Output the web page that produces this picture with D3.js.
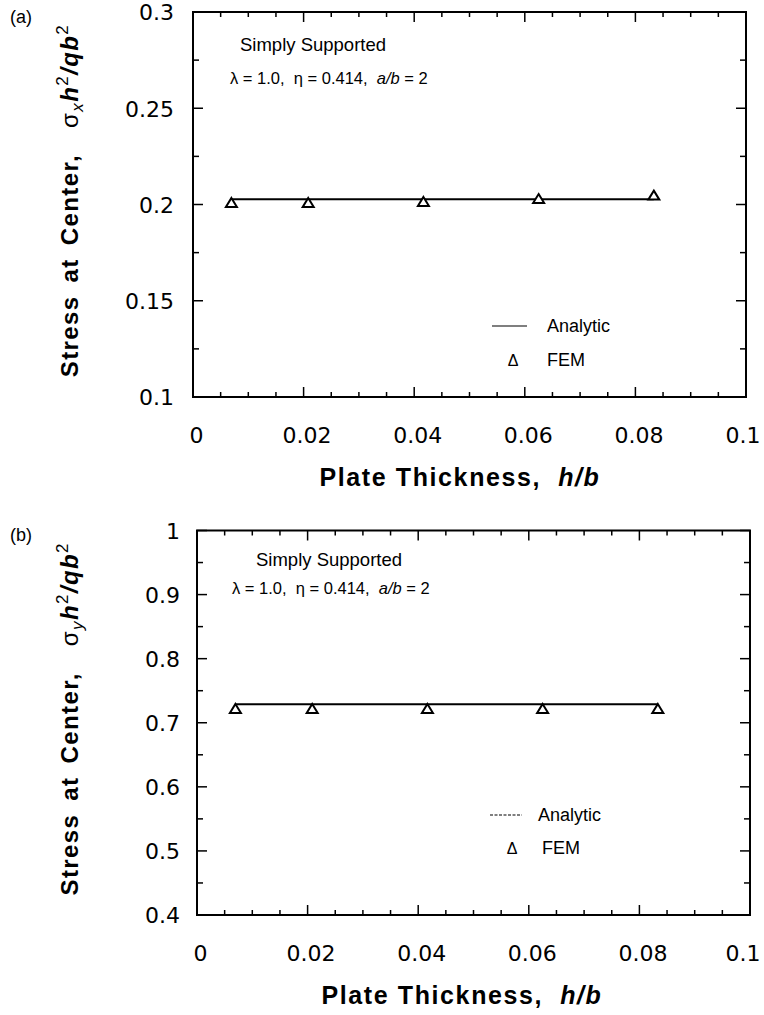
<!DOCTYPE html>
<html>
<head>
<meta charset="utf-8">
<script src="https://cdn.jsdelivr.net/npm/d3@7"></script>
<style>
  html, body { margin: 0; padding: 0; background: #fff; }
  svg { display: block; }
  text { font-family: "Liberation Sans", Arial, Helvetica, sans-serif; fill: #000; white-space: pre; }
</style>
</head>
<body>
<svg id="chart" width="764" height="1015"></svg>
<script>
// ---------- data ----------
const plateThickness = [1/144, 1/48, 1/24, 1/16, 1/12];          // h/b
const femSigmaX      = [0.2003, 0.2003, 0.2008, 0.2023, 0.2041];   // panel (a) FEM
const analyticSigmaX = [0.2027, 0.2027, 0.2027, 0.2027, 0.2027];   // panel (a) Analytic
const femSigmaY      = [0.720, 0.720, 0.720, 0.720, 0.720];        // panel (b) FEM
const analyticSigmaY = [0.729, 0.729, 0.729, 0.729, 0.729];        // panel (b) Analytic
const xTickValues    = [0, 0.02, 0.04, 0.06, 0.08, 0.1];
const xTickLabels    = ["0", "0.02", "0.04", "0.06", "0.08", "0.1"];
const yTicksA        = [0.1, 0.15, 0.2, 0.25, 0.3];
const yTickLabelsA   = ["0.1", "0.15", "0.2", "0.25", "0.3"];
const yTicksB        = [0.4, 0.5, 0.6, 0.7, 0.8, 0.9, 1];
const yTickLabelsB   = ["0.4", "0.5", "0.6", "0.7", "0.8", "0.9", "1"];
const legendLabels   = ["Analytic", "FEM"];
const annotTitle     = "Simply Supported";

const svg = d3.select("#chart");

// open triangle marker (width w, height h), centred on its centroid
const triType = {
  draw(ctx, size) {
    const w = 11, h = 9;
    ctx.moveTo(0, -2 * h / 3);
    ctx.lineTo(w / 2, h / 3);
    ctx.lineTo(-w / 2, h / 3);
    ctx.closePath();
  }
};

function drawPanel(cfg) {
  const g = svg.append("g");
  const x = d3.scaleLinear().domain([0, 0.1]).range([cfg.left, cfg.right]);
  const y = d3.scaleLinear().domain(cfg.yDomain).range([cfg.bottom, cfg.top]);

  const xMinor = d3.range(0, 0.1001, 0.005);
  const yMinor = d3.range(cfg.yDomain[0], cfg.yDomain[1] + 1e-9, cfg.yMinorStep);

  // ticks (inward) on all four sides
  const tickG = g.append("g").attr("stroke", "#000").attr("stroke-width", 1.5);
  const isMajor = (v, arr) => arr.some(t => Math.abs(t - v) < 1e-9);
  xMinor.forEach(v => {
    const L = isMajor(v, xTickValues) ? 10 : 5;
    tickG.append("line").attr("x1", x(v)).attr("x2", x(v)).attr("y1", cfg.bottom).attr("y2", cfg.bottom - L);
    tickG.append("line").attr("x1", x(v)).attr("x2", x(v)).attr("y1", cfg.top).attr("y2", cfg.top + L);
  });
  yMinor.forEach(v => {
    const L = isMajor(v, cfg.yTicks) ? 10 : 6;
    tickG.append("line").attr("y1", y(v)).attr("y2", y(v)).attr("x1", cfg.left).attr("x2", cfg.left + L);
    tickG.append("line").attr("y1", y(v)).attr("y2", y(v)).attr("x1", cfg.right).attr("x2", cfg.right - L);
  });

  // frame
  g.append("rect")
    .attr("x", cfg.left).attr("y", cfg.top)
    .attr("width", cfg.right - cfg.left).attr("height", cfg.bottom - cfg.top)
    .attr("fill", "none").attr("stroke", "#000").attr("stroke-width", 2);

  // tick labels
  const xAxis = d3.axisBottom(x).tickValues(xTickValues).tickSize(0).tickPadding(0)
    .tickFormat((d, i) => xTickLabels[i]);
  const xa = g.append("g").attr("transform", `translate(3,${cfg.xLabelY})`).call(xAxis);
  xa.select(".domain").remove();
  xa.selectAll("text").attr("font-size", 22).attr("y", 0).attr("dy", "0.36em")
    .style("font-family", "'DejaVu Sans', sans-serif");
  // last label sits against the right edge of the picture, as in the reference
  xa.selectAll(".tick").filter((d, i, n) => i === n.length - 1).select("text")
    .attr("text-anchor", "end").attr("x", 760 - 3 - x(0.1));

  const yAxis = d3.axisLeft(y).tickValues(cfg.yTicks).tickSize(0).tickPadding(0)
    .tickFormat((d, i) => cfg.yTickLabels[i]);
  const ya = g.append("g").attr("transform", `translate(${cfg.yLabelX},0)`).call(yAxis);
  ya.select(".domain").remove();
  ya.selectAll("text").attr("font-size", 22).attr("dy", "0.36em")
    .style("font-family", "'DejaVu Sans', sans-serif");

  // analytic line
  const line = d3.line().x((d, i) => x(plateThickness[i])).y(d => y(d));
  g.append("path").datum(cfg.analytic)
    .attr("d", line).attr("fill", "none").attr("stroke", "#000").attr("stroke-width", 2);

  // FEM triangles
  const tri = d3.symbol().type(triType);
  g.selectAll(".fem").data(cfg.fem).enter().append("path")
    .attr("class", "fem")
    .attr("d", tri)
    .attr("transform", (d, i) => `translate(${x(plateThickness[i])},${y(d)})`)
    .attr("fill", "#fff").attr("stroke", "#000").attr("stroke-width", 2)
    .attr("stroke-linejoin", "miter");

  // panel letter
  g.append("text").attr("x", 10).attr("y", cfg.letterY).attr("font-size", 18).text(cfg.letter);

  // annotation
  g.append("text").attr("x", cfg.annotX1).attr("y", cfg.annotY1).attr("font-size", 18.5).text(annotTitle);
  const p = g.append("text").attr("x", cfg.annotX2).attr("y", cfg.annotY2).attr("font-size", 16.5);
  p.append("tspan").text("λ = 1.0,  η = 0.414,  ");
  p.append("tspan").attr("font-style", "italic").text("a/b");
  p.append("tspan").text(" = 2");

  // legend
  g.append("line").attr("x1", cfg.legLineX1).attr("x2", cfg.legLineX2)
    .attr("y1", cfg.legLineY).attr("y2", cfg.legLineY)
    .attr("stroke", "#000").attr("stroke-width", 1.2)
    .attr("stroke-dasharray", cfg.legDash);
  g.append("text").attr("x", cfg.legTextX1).attr("y", cfg.legLineY + 6).attr("font-size", 18).text(legendLabels[0]);
  g.append("text").attr("x", cfg.legDeltaX).attr("y", cfg.legFemY + 6).attr("font-size", 16)
    .attr("text-anchor", "middle").text("Δ");
  g.append("text").attr("x", cfg.legTextX2).attr("y", cfg.legFemY + 6).attr("font-size", 18).text(legendLabels[1]);

  // x title
  const xt = g.append("text").attr("x", cfg.xTitleX).attr("y", cfg.xTitleY + 8)
    .attr("text-anchor", "middle").attr("font-size", 25).attr("font-weight", "bold")
    .style("letter-spacing", "1.6px");
  xt.append("tspan").text("Plate Thickness,  ");
  xt.append("tspan").attr("font-style", "italic").text("h/b");

  // y title
  const cy = (cfg.top + cfg.bottom) / 2 - 4;
  const yt = g.append("text").attr("transform", `translate(${cfg.yTitleX},${cy}) rotate(-90)`)
    .attr("text-anchor", "middle").attr("font-size", 24).attr("font-weight", "bold")
    .style("letter-spacing", "1.4px").style("word-spacing", "5px");
  yt.append("tspan").text("Stress at Center,  ");
  yt.append("tspan").attr("font-weight", "normal").text("σ");
  yt.append("tspan").attr("font-weight", "normal").attr("font-style", "italic").attr("font-size", 17).attr("dy", 5).text(cfg.sub);
  yt.append("tspan").attr("font-style", "italic").attr("dy", -5).text("h");
  yt.append("tspan").attr("font-weight", "normal").attr("font-size", 17).attr("dy", -10).text("2");
  yt.append("tspan").attr("font-style", "italic").attr("dy", 10).text("/qb");
  yt.append("tspan").attr("font-weight", "normal").attr("font-size", 17).attr("dy", -10).text("2");
}

drawPanel({
  letter: "(a)", sub: "x", letterY: 23,
  left: 193, right: 746, top: 12, bottom: 397,
  yDomain: [0.1, 0.3], yMinorStep: 0.025,
  yTicks: yTicksA, yTickLabels: yTickLabelsA,
  fem: femSigmaX, analytic: analyticSigmaX,
  xLabelY: 435, yLabelX: 174,
  annotX1: 240, annotY1: 51, annotX2: 230, annotY2: 84,
  legLineX1: 492, legLineX2: 527, legLineY: 326, legTextX1: 547,
  legDeltaX: 513, legTextX2: 547, legFemY: 360, legDash: null,
  xTitleX: 460, xTitleY: 478,
  yTitleX: 78
});

drawPanel({
  letter: "(b)", sub: "y", letterY: 541,
  left: 197, right: 750, top: 530.5, bottom: 915,
  yDomain: [0.4, 1.0], yMinorStep: 0.05,
  yTicks: yTicksB, yTickLabels: yTickLabelsB,
  fem: femSigmaY, analytic: analyticSigmaY,
  xLabelY: 953, yLabelX: 180,
  annotX1: 256, annotY1: 566, annotX2: 232, annotY2: 594,
  legLineX1: 490, legLineX2: 522, legLineY: 815, legTextX1: 538,
  legDeltaX: 512, legTextX2: 542, legFemY: 848, legDash: "3,1.5",
  xTitleX: 462, xTitleY: 996,
  yTitleX: 78
});
</script>
</body>
</html>
